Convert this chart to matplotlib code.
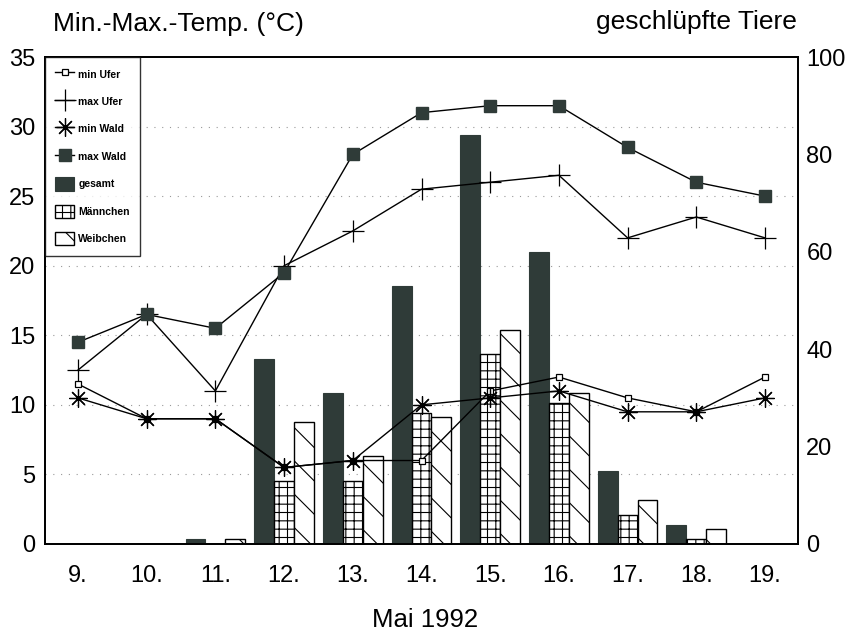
import numpy as np
import matplotlib
matplotlib.use('Agg')
import matplotlib.pyplot as plt

plt.rcParams['font.family'] = ['Liberation Sans', 'DejaVu Sans']
plt.rcParams['hatch.linewidth'] = 0.8

# Data
days = ['9.', '10.', '11.', '12.', '13.', '14.', '15.', '16.', '17.', '18.', '19.']
min_ufer = [11.5, 9, 9, 5.5, 6, 6, 11, 12, 10.5, 9.5, 12]
max_ufer = [12.5, 16.5, 11, 20, 22.5, 25.5, 26, 26.5, 22, 23.5, 22]
min_wald = [10.5, 9, 9, 5.5, 6, 10, 10.5, 11, 9.5, 9.5, 10.5]
max_wald = [14.5, 16.5, 15.5, 19.5, 28, 31, 31.5, 31.5, 28.5, 26, 25]
gesamt = [0, 0, 1, 38, 31, 53, 84, 60, 15, 4, 0]
maennchen = [0, 0, 0, 13, 13, 27, 39, 29, 6, 1, 0]
weibchen = [0, 0, 1, 25, 18, 26, 44, 31, 9, 3, 0]

dark = '#2f3b38'
x = np.arange(len(days))
w = 0.29

fig = plt.figure(figsize=(8.52, 6.32), dpi=100)
axb = fig.add_axes([45 / 852, 1 - 544 / 632, 753 / 852, 487 / 632])

# bars on the right scale (drawn first, below the lines)
b1 = axb.bar(x - w, gesamt, w, color=dark, edgecolor=dark, linewidth=0.8, label='gesamt')
b2 = axb.bar(x, maennchen, w, color='white', edgecolor='black', linewidth=1.0,
             hatch='++', label='Männchen')
b3 = axb.bar(x + w, weibchen, w, color='white', edgecolor='black', linewidth=1.0,
             hatch='\\', label='Weibchen')
axb.set_ylim(0, 100)
axb.set_xlim(-0.48, 10.48)
axb.set_xticks(x)
axb.set_xticklabels(days)
axb.tick_params(axis='x', length=0, labelsize=17, pad=15)
for yv in range(5, 35, 5):
    axb.axhline(yv * 100 / 35, color='#999999', lw=0.8, ls=(0, (1, 6)), zorder=0)

# temperature lines on the left scale
axt = axb.twinx()
axt.yaxis.tick_left()
axt.set_ylim(0, 35)
axt.set_yticks(range(0, 40, 5))
axt.tick_params(axis='y', length=0, labelsize=17, pad=7)

axb.yaxis.tick_right()
axb.set_yticks([0, 20, 40, 60, 80, 100])
axb.tick_params(axis='y', length=0, labelsize=17, pad=6)

l1, = axt.plot(x, min_ufer, color='black', lw=1.0, marker='s', ms=4.5,
               mfc='white', mec='black', mew=0.9, label='min Ufer')
l2, = axt.plot(x, max_ufer, color='black', lw=1.0, marker='+', ms=16,
               mew=0.9, label='max Ufer')
l3, = axt.plot(x, min_wald, color='black', lw=1.0, marker=(8, 2, 0), ms=13,
               mew=0.9, label='min Wald')
l4, = axt.plot(x, max_wald, color='black', lw=1.0, marker='s', ms=8,
               mfc=dark, mec=dark, label='max Wald')

for a in (axb, axt):
    for s in a.spines.values():
        s.set_linewidth(1.3)
        s.set_color('black')

leg = axt.legend(handles=[l1, l2, l3, l4, b1, b2, b3], loc='upper left',
                 bbox_to_anchor=(0, 1), borderaxespad=0, fancybox=False,
                 prop={'size': 7.5, 'weight': 'bold'}, labelspacing=1.35,
                 handlelength=1.8, handleheight=1.6, handletextpad=0.4,
                 borderpad=1.0)
leg.get_frame().set_edgecolor('black')
leg.get_frame().set_linewidth(1.0)

fig.text(53 / 852, 1 - 24 / 632, 'Min.-Max.-Temp. (°C)', fontsize=19, va='center')
fig.text(797 / 852, 1 - 22 / 632, 'geschlüpfte Tiere', fontsize=19, va='center', ha='right')
fig.text(425 / 852, 1 - 620 / 632, 'Mai 1992', fontsize=18.5, va='center', ha='center')

fig.savefig('out.png', dpi=100)
